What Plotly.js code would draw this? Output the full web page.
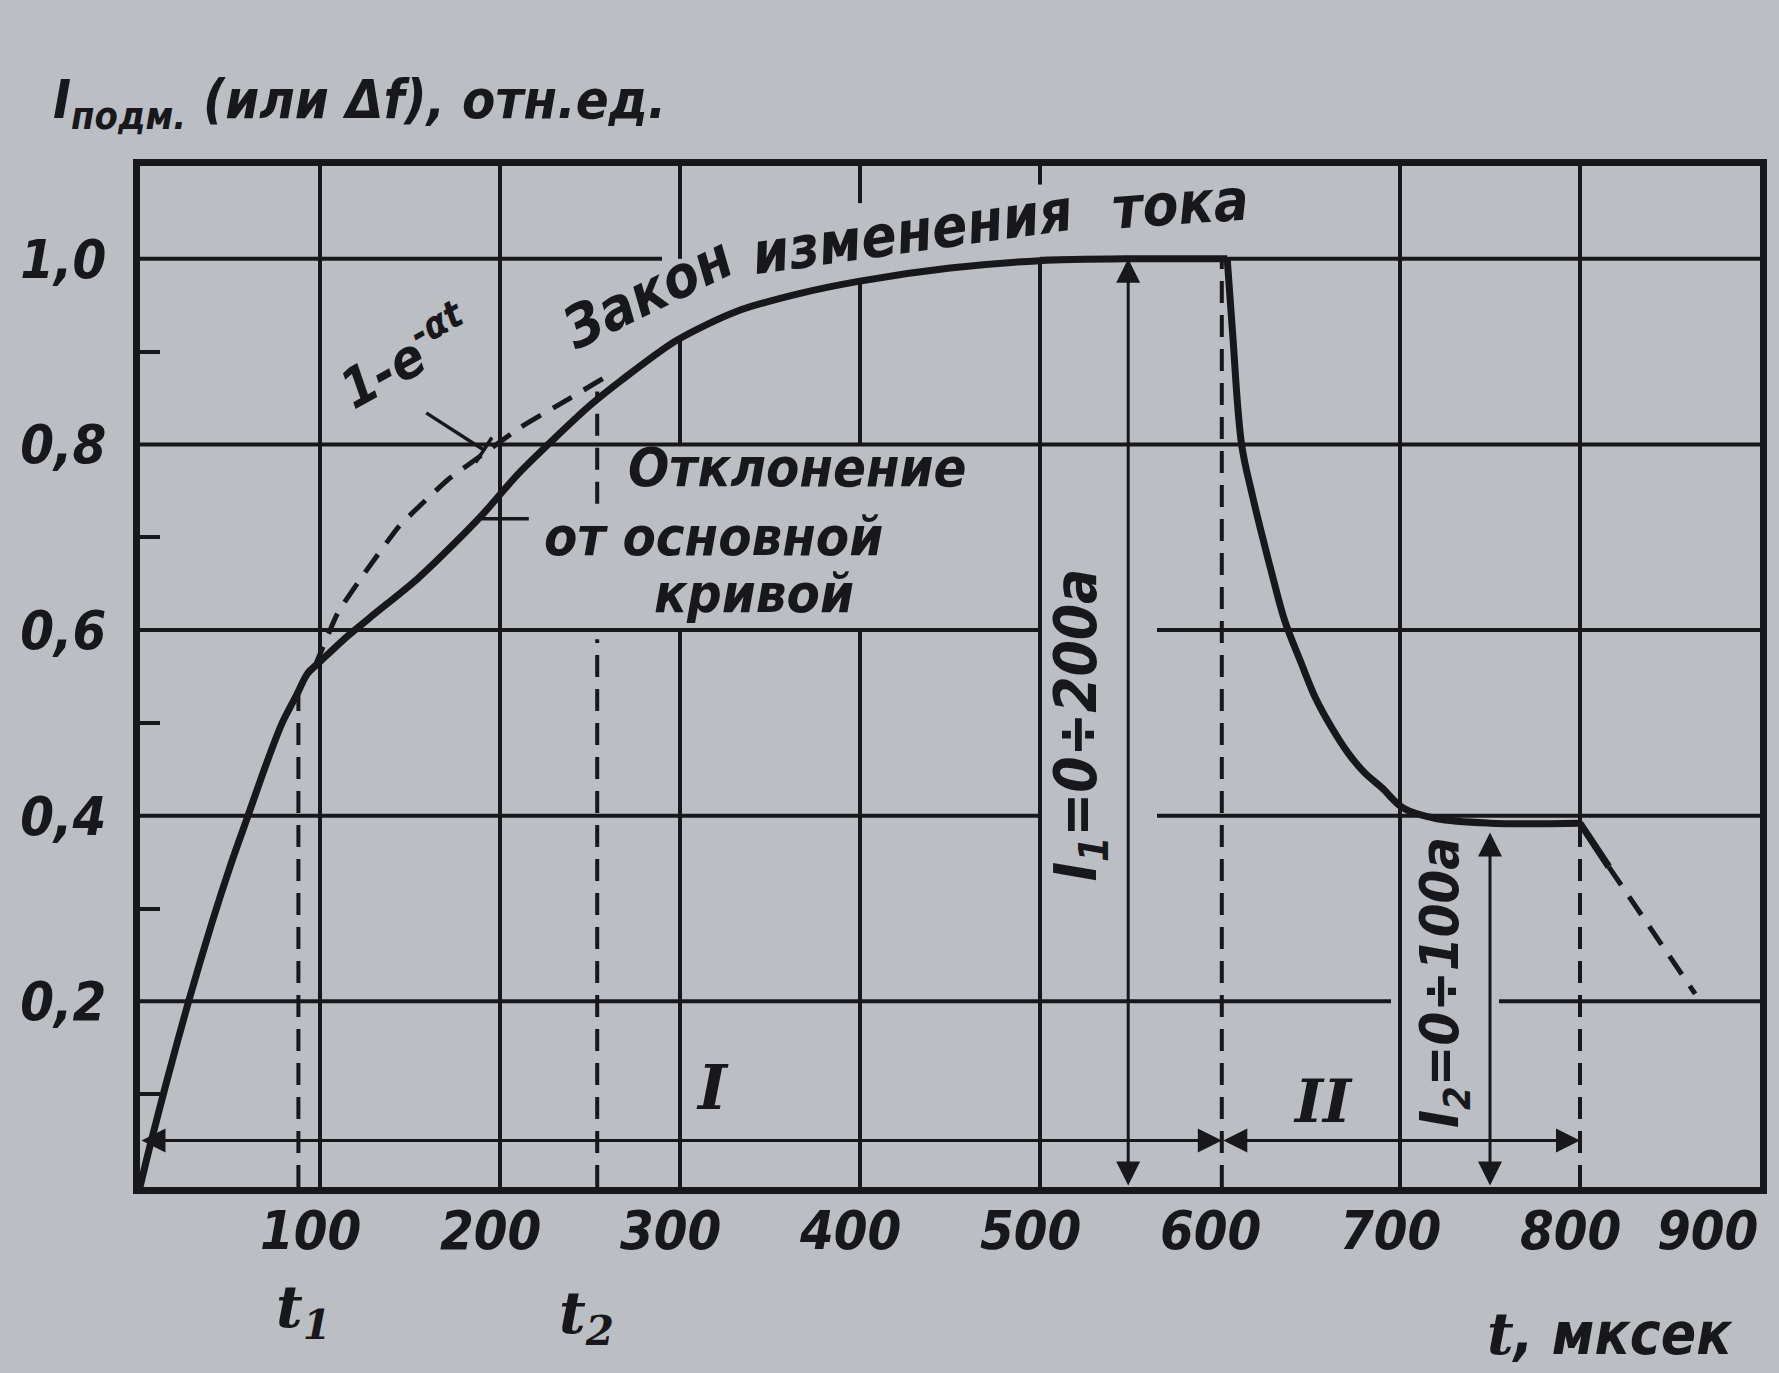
<!DOCTYPE html>
<html>
<head>
<meta charset="utf-8">
<script src="https://cdn.plot.ly/plotly-3.0.1.min.js"></script>
<style>
  html, body { margin: 0; padding: 0; background: #bbbec3; }
  #chart { width: 1779px; height: 1373px; }
</style>
</head>
<body>
<div id="chart"></div>
<script>
// ---------------- data ----------------
// main current curve: rise + plateau (region I)
const riseT = [0, 5, 15, 27, 40, 50, 60, 70, 79, 87, 93, 100, 115, 130, 154, 175, 191, 210, 230, 250, 268, 298, 331, 365, 400, 450, 500, 550, 604];
const riseV = [0, 0.04, 0.115, 0.2, 0.285, 0.345, 0.40, 0.455, 0.50, 0.53, 0.553, 0.566, 0.593, 0.617, 0.655, 0.694, 0.726, 0.768, 0.806, 0.842, 0.87, 0.912, 0.943, 0.962, 0.976, 0.99, 0.998, 1.0, 1.0];
// drop to the second level (region II)
const dropT = [604, 607, 612, 618, 623, 630, 636, 645, 653, 662, 671, 680, 690, 702, 720, 750, 800];
const dropV = [1.0, 0.92, 0.80, 0.745, 0.705, 0.652, 0.61, 0.565, 0.527, 0.495, 0.468, 0.447, 0.43, 0.408, 0.397, 0.392, 0.392];
// short solid fall after region II and its dashed continuation
const fallT = [800, 816];
const fallV = [0.392, 0.345];
const tailT = [816, 864];
const tailV = [0.345, 0.208];
// dashed ideal exponential 1 - e^(-at)
const expT = [97, 110, 125, 144, 171, 188, 211, 239, 258];
const expV = [0.56, 0.619, 0.662, 0.712, 0.762, 0.786, 0.818, 0.85, 0.872];

// marked times and levels
const t1 = 88, t2 = 254, tRegionSplit = 601, tRegionEnd = 800;
const levelI1 = 1.0, levelI2 = 0.392;
const arrowI1T = 549, arrowI2T = 750, spanArrowV = 0.05;

// ticks
const yTickVals = [0.2, 0.4, 0.6, 0.8, 1.0];
const yMinorVals = [0.1, 0.3, 0.5, 0.7, 0.9];
const xTickVals = [100, 200, 300, 400, 500, 600, 700, 800, 900];
const xTickText = ['100', '200', '300', '400', '500', '600', '700', '800', '900'];

// ---------------- styling ----------------
const INK = 'rgb(24,24,28)';
const PAPER = '#bbbec3';
const SANS = '"DejaVu Sans Condensed", "DejaVu Sans", sans-serif';
const SERIF = '"DejaVu Serif", "Liberation Serif", serif';
const txt = (size, fam) => ({ family: fam || SANS, size: size, color: INK, style: 'italic', weight: 'bold' });

const YMAX = 1.1, XMAX = 900;

// grid segments (lines are interrupted where the drawing puts text)
const vGrid = [
  { t: 100, segs: [[0, YMAX]] },
  { t: 200, segs: [[0, YMAX]] },
  { t: 300, segs: [[0, 0.6], [0.8, 0.915], [1.0, YMAX]] },
  { t: 400, segs: [[0, 0.6], [0.8, 0.975], [1.06, YMAX]] },
  { t: 500, segs: [[0, 1.0], [1.08, YMAX]] },
  { t: 700, segs: [[0, YMAX]] },
  { t: 800, segs: [[levelI2, YMAX]] }
];
const hGrid = [
  { v: 0.2, segs: [[0, 695], [755, XMAX]] },
  { v: 0.4, segs: [[0, 500], [565, XMAX]] },
  { v: 0.6, segs: [[0, 500], [565, XMAX]] },
  { v: 0.8, segs: [[0, XMAX]] },
  { v: 1.0, segs: [[0, 290], [500, XMAX]] }
];

const shapes = [];
const gridLine = { color: INK, width: 4 };
vGrid.forEach(g => g.segs.forEach(s => shapes.push({
  type: 'line', xref: 'x', yref: 'y', x0: g.t, x1: g.t, y0: s[0], y1: s[1], line: gridLine, layer: 'below'
})));
hGrid.forEach(g => g.segs.forEach(s => shapes.push({
  type: 'line', xref: 'x', yref: 'y', x0: s[0], x1: s[1], y0: g.v, y1: g.v, line: gridLine, layer: 'below'
})));

// dashed verticals
const dashLine = { color: INK, width: 4, dash: '22px,12px' };
[[t1, 0, 0.53], [t2, 0, 0.59], [t2, 0.736, 0.857], [tRegionSplit, 0, levelI1], [tRegionEnd, 0, levelI2]].forEach(d => {
  shapes.push({ type: 'line', xref: 'x', yref: 'y', x0: d[0], x1: d[0], y0: d[1], y1: d[2], line: dashLine, layer: 'below' });
});

// leader lines
const leader = { color: INK, width: 3.5 };
shapes.push({ type: 'line', xref: 'x', yref: 'y', x0: 159, y0: 0.834, x1: 191, y1: 0.794, line: leader });
shapes.push({ type: 'line', xref: 'x', yref: 'y', x0: 186.5, y0: 0.7805, x1: 195.5, y1: 0.8075, line: leader });
shapes.push({ type: 'line', xref: 'x', yref: 'y', x0: 190, y0: 0.72, x1: 216, y1: 0.72, line: leader });

// ---------------- traces ----------------
const traces = [
  { x: riseT, y: riseV, mode: 'lines', line: { color: INK, width: 7, shape: 'spline', smoothing: 0.8 }, hoverinfo: 'skip' },
  { x: dropT, y: dropV, mode: 'lines', line: { color: INK, width: 7, shape: 'spline', smoothing: 1.0 }, hoverinfo: 'skip' },
  { x: fallT, y: fallV, mode: 'lines', line: { color: INK, width: 7 }, hoverinfo: 'skip' },
  { x: tailT, y: tailV, mode: 'lines', line: { color: INK, width: 5, dash: '22px,14px' }, hoverinfo: 'skip' },
  { x: expT, y: expV, mode: 'lines', line: { color: INK, width: 5, dash: '22px,14px', shape: 'spline', smoothing: 0.4 }, hoverinfo: 'skip' }
];

// ---------------- annotations ----------------
const ann = [];
// arrows
const arrow = (x, y, ax, ay) => ({
  x: x, y: y, ax: ax, ay: ay, xref: 'x', yref: 'y', axref: 'x', ayref: 'y',
  text: '', showarrow: true, arrowhead: 2, arrowside: 'end+start', arrowsize: 1.6, arrowwidth: 3,
  arrowcolor: INK, standoff: 0, startstandoff: 0
});
ann.push(arrow(arrowI1T, levelI1, arrowI1T, 0));
ann.push(arrow(arrowI2T, levelI2 - 0.01, arrowI2T, 0));
ann.push(arrow(tRegionSplit, spanArrowV, 0, spanArrowV));
ann.push(arrow(tRegionEnd, spanArrowV, tRegionSplit, spanArrowV));

// x tick labels
xTickVals.forEach((v, i) => {
  const last = i === xTickVals.length - 1;
  ann.push({
    x: v, y: -0.043, xref: 'x', yref: 'paper', text: xTickText[i], showarrow: false,
    xanchor: last ? 'right' : 'center', yanchor: 'middle', xshift: last ? 0 : -10, font: txt(54)
  });
});
// t1, t2 under the axis
ann.push({ x: 91, y: -0.121, xref: 'x', yref: 'paper', xanchor: 'center', yanchor: 'middle', text: 't<sub>1</sub>', showarrow: false, font: txt(58, SERIF) });
ann.push({ x: 248, y: -0.127, xref: 'x', yref: 'paper', xanchor: 'center', yanchor: 'middle', text: 't<sub>2</sub>', showarrow: false, font: txt(58, SERIF) });
// axis titles
ann.push({ x: 886, y: -0.144, xref: 'x', yref: 'paper', xanchor: 'right', yanchor: 'middle', showarrow: false,
  text: '<span style="font-family:DejaVu Serif">t</span>, мксек', font: txt(58) });
ann.push({ x: -0.055, y: 1.062, xref: 'paper', yref: 'paper', xanchor: 'left', yanchor: 'middle', showarrow: false,
  text: 'I<sub>подм.</sub> (или Δf), отн.ед.', font: txt(54) });

// texts inside the plot
const inText = (x, y, text, angle, size, fam) => ({
  x: x, y: y, xref: 'x', yref: 'y', text: text, showarrow: false, textangle: angle,
  xanchor: 'center', yanchor: 'middle', font: txt(size, fam)
});
ann.push(inText(522, 0.498, 'I<sub>1</sub>=0÷200a', -90, 58));
ann.push(inText(724, 0.22, 'I<sub>2</sub>=0÷100a', -90, 54));
ann.push(inText(318, 0.107, 'I', 0, 62, SERIF));
ann.push(inText(657, 0.093, 'II', 0, 60, SERIF));
ann.push(inText(147, 0.895, '1-e<sup>-αt</sup>', -29, 54));
ann.push(inText(282, 0.963, 'Закон', -26, 58));
ann.push(inText(429, 1.029, 'изменения', -8, 58));
ann.push(inText(578, 1.059, 'тока', -4, 58));
ann.push(inText(365, 0.775, 'Отклонение', 0, 54));
ann.push(inText(318.5, 0.701, 'от основной', 0, 54));
ann.push(inText(341, 0.639, 'кривой', 0, 54));

// ---------------- layout ----------------
const layout = {
  width: 1779, height: 1373,
  margin: { l: 140, r: 19, t: 166, b: 186 },
  paper_bgcolor: PAPER, plot_bgcolor: PAPER,
  showlegend: false,
  separators: ', ',
  xaxis: {
    range: [0, XMAX], showgrid: false, zeroline: false, showticklabels: false, ticks: '',
    showline: true, mirror: true, linewidth: 7, linecolor: INK, fixedrange: true
  },
  yaxis: {
    range: [0, YMAX], showgrid: false, zeroline: false, tickmode: 'array', tickvals: yTickVals,
    tickformat: '.1f', ticks: '', ticklabelstandoff: 16, tickfont: txt(54),
    showline: true, mirror: true, linewidth: 7, linecolor: INK, fixedrange: true,
    minor: { tickmode: 'array', tickvals: yMinorVals, ticks: 'inside', ticklen: 20, tickwidth: 4, tickcolor: INK, showgrid: false }
  },
  shapes: shapes,
  annotations: ann
};

Plotly.newPlot('chart', traces, layout, { staticPlot: true, displayModeBar: false });
</script>
</body>
</html>
